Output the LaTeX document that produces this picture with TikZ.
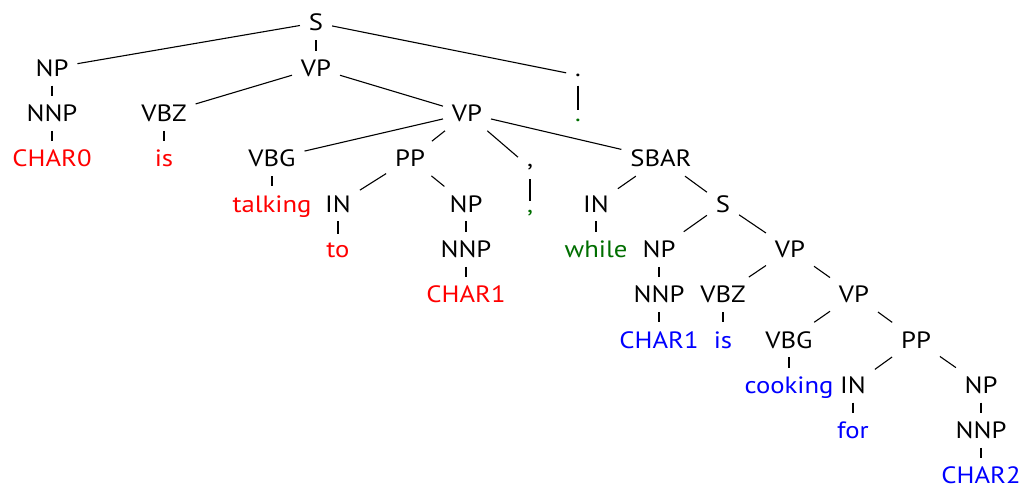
\documentclass[tikz,border=0pt]{standalone}
\usepackage{fontspec}
\setmainfont[FakeStretch=1.13]{PT Sans}
\definecolor{wred}{RGB}{255,0,0}
\definecolor{wblue}{RGB}{0,0,255}
\definecolor{wgreen}{RGB}{0,110,0}
\begin{document}
\begin{tikzpicture}[x=0.5pt,y=-0.5pt,
  every node/.style={font=\fontsize{11.8}{13}\selectfont, inner sep=4.5pt, outer sep=0pt, anchor=base},
  tag/.style={text=black},
  wr/.style={text=wred},
  wb/.style={text=wblue},
  wg/.style={text=wgreen},
  edge/.style={draw=black, line width=0.55pt}]
\useasboundingbox (0,0) rectangle (1023,485);
\def\L#1{\fpeval{31+45.3*#1}}
% level 0
\node[tag] (S) at (316,{\L{0}}) {S};
% level 1
\node[tag] (NP1) at (52,{\L{1}}) {NP};
\node[tag] (VP1) at (316,{\L{1}}) {VP};
\node[tag] (dot1) at (578,{\L{1}}) {.};
% level 2
\node[tag] (NNP0) at (52,{\L{2}}) {NNP};
\node[tag] (VBZ1) at (164,{\L{2}}) {VBZ};
\node[tag] (VP2) at (467,{\L{2}}) {VP};
\node[wg] (dot2) at (578,{\L{2}}) {.};
% level 3
\node[wr] (char0) at (52,{\L{3}}) {CHAR0};
\node[wr] (is1) at (164,{\L{3}}) {is};
\node[tag] (VBG1) at (272,{\L{3}}) {VBG};
\node[tag] (PP1) at (410,{\L{3}}) {PP};
\node[tag] (com1) at (530,{\L{3}}) {,};
\node[tag] (SBAR) at (661,{\L{3}}) {SBAR};
% level 4
\node[wr] (talking) at (272,{\L{4}}) {talking};
\node[tag] (IN1) at (338,{\L{4}}) {IN};
\node[tag] (NP2) at (466,{\L{4}}) {NP};
\node[wg] (com2) at (530,{\L{4}}) {,};
\node[tag] (IN2) at (596,{\L{4}}) {IN};
\node[tag] (S2) at (723,{\L{4}}) {S};
% level 5
\node[wr] (to) at (338,{\L{5}}) {to};
\node[tag] (NNP1) at (466,{\L{5}}) {NNP};
\node[wg] (while) at (596,{\L{5}}) {while};
\node[tag] (NP3) at (659,{\L{5}}) {NP};
\node[tag] (VP3) at (790,{\L{5}}) {VP};
% level 6
\node[wr] (char1a) at (466,{\L{6}}) {CHAR1};
\node[tag] (NNP2) at (659,{\L{6}}) {NNP};
\node[tag] (VBZ2) at (723,{\L{6}}) {VBZ};
\node[tag] (VP4) at (854,{\L{6}}) {VP};
% level 7
\node[wb] (char1b) at (659,{\L{7}}) {CHAR1};
\node[wb] (is2) at (723,{\L{7}}) {is};
\node[tag] (VBG2) at (789,{\L{7}}) {VBG};
\node[tag] (PP2) at (916,{\L{7}}) {PP};
% level 8
\node[wb] (cooking) at (789,{\L{8}}) {cooking};
\node[tag] (IN3) at (853,{\L{8}}) {IN};
\node[tag] (NP4) at (981,{\L{8}}) {NP};
% level 9
\node[wb] (for) at (853,{\L{9}}) {for};
\node[tag] (NNP3) at (981,{\L{9}}) {NNP};
% level 10
\node[wb] (char2) at (981,{\L{10}}) {CHAR2};
% edges
\foreach \a/\b in {S/NP1,S/VP1,S/dot1,NP1/NNP0,NNP0/char0,VP1/VBZ1,VP1/VP2,
  VBZ1/is1,dot1/dot2,VP2/VBG1,VP2/PP1,VP2/com1,VP2/SBAR,VBG1/talking,PP1/IN1,PP1/NP2,
  com1/com2,SBAR/IN2,SBAR/S2,IN1/to,NP2/NNP1,IN2/while,S2/NP3,S2/VP3,NNP1/char1a,
  NP3/NNP2,VP3/VBZ2,VP3/VP4,NNP2/char1b,VBZ2/is2,VP4/VBG2,VP4/PP2,VBG2/cooking,
  PP2/IN3,PP2/NP4,IN3/for,NP4/NNP3,NNP3/char2}
  \draw[edge] (\a) -- (\b);
\end{tikzpicture}
\end{document}
